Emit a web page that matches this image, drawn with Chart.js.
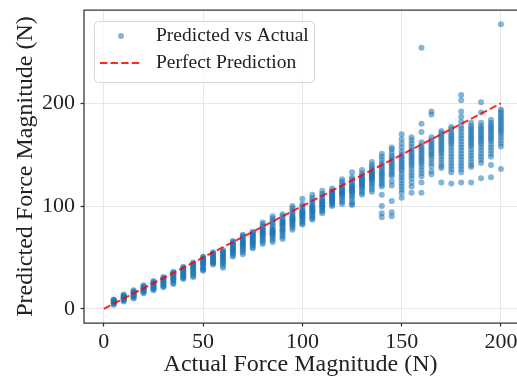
<!DOCTYPE html>
<html>
<head>
<meta charset="utf-8">
<script src="https://cdn.jsdelivr.net/npm/chart.js@4/dist/chart.umd.min.js"></script>
<style>
  html, body { margin: 0; padding: 0; background: #fff; overflow: hidden; }
  #wrap { position: relative; width: 517px; height: 379px; }
</style>
</head>
<body>
<div id="wrap"><canvas id="forceChart" width="517" height="379"></canvas></div>
<script>
// actual force (N) for each column of points
const actual = [5, 10, 15, 20, 25, 30, 35, 40, 45, 50,
  55, 60, 65, 70, 75, 80, 85, 90, 95, 100,
  105, 110, 115, 120, 125, 130, 135, 140, 145, 150,
  155, 160, 165, 170, 175, 180, 185, 190, 195, 200];

// predicted force (N), one list per actual value
const predicted = [
  [4, 5, 5.5, 6, 6.5, 7, 7.5, 8, 8.5, 9],
  [7, 8, 9, 9.5, 10, 10.5, 11, 12, 12.5, 13, 14],
  [10, 11, 12, 13, 13.5, 14, 15, 15.5, 16, 17, 18],
  [15, 16, 17, 18, 18.5, 19, 20, 20.5, 21, 22, 23],
  [18, 19, 20, 21, 22, 23, 24, 24.5, 25, 26, 27],
  [21, 22, 23, 24, 25, 26, 27, 28, 29, 30, 31],
  [24, 25, 27, 28, 29, 30, 31, 32, 33, 34, 35, 36],
  [29, 30, 31, 32, 33, 34, 35, 36, 37, 38, 39, 40, 41],
  [31, 32, 34, 35, 36, 38, 39, 40, 41, 42, 43, 44, 45],
  [37, 38, 39, 40, 42, 43, 44, 45, 46, 47, 48, 49, 50, 51],
  [43, 44, 45, 46, 47, 48, 49, 50, 51, 52, 53, 54, 55],
  [40, 42, 44, 45, 46, 48, 49, 50, 51, 52, 53, 54, 55, 56, 57],
  [51, 52, 54, 55, 56, 57, 58, 59, 60, 61, 62, 63, 64, 65, 66],
  [53, 55, 57, 58, 60, 61, 62, 63, 64, 65, 66, 67, 68, 70, 71, 72],
  [59, 60, 62, 63, 64, 65, 66, 67, 68, 69, 70, 71, 72, 73, 74, 75],
  [63, 65, 67, 68, 70, 71, 72, 73, 74, 75, 76, 77, 78, 80, 82, 84],
  [65, 67, 69, 71, 72, 73, 74, 75, 76, 77, 78, 80, 82, 84, 86, 88, 90],
  [68, 70, 72, 74, 76, 77, 78, 80, 81, 82, 83, 84, 85, 86, 88, 90, 92],
  [77, 79, 81, 82, 84, 85, 86, 87, 88, 89, 90, 92, 94, 96, 98, 100],
  [82, 83, 85, 86, 88, 89, 90, 91, 92, 93, 94, 95, 96, 98, 100, 102, 107],
  [87, 88, 90, 91, 93, 94, 95, 96, 97, 98, 99, 100, 102, 104, 106, 108, 111],
  [93, 95, 96, 98, 99, 100, 101, 102, 103, 104, 105, 106, 108, 110, 112, 115],
  [100, 101, 103, 104, 105, 106, 107, 108, 109, 110, 111, 112, 113, 114, 115, 117],
  [102, 104, 106, 108, 110, 111, 112, 113, 114, 115, 116, 117, 118, 120, 122, 124, 126],
  [101, 102, 104, 107, 109, 111, 113, 114, 115, 116, 117, 118, 119, 120, 122, 124, 126, 128, 133],
  [111, 113, 115, 117, 119, 120, 121, 122, 123, 124, 125, 126, 127, 128, 130, 132, 135],
  [114, 116, 119, 121, 123, 125, 126, 127, 128, 129, 130, 131, 132, 133, 134, 136, 138, 140, 143],
  [89, 93, 100, 111, 119, 121, 123, 125, 127, 129, 131, 132, 134, 136, 138, 140, 142, 145, 148, 151],
  [90, 94, 105, 120, 124, 129, 131, 133, 135, 137, 139, 141, 143, 145, 147, 149, 152, 155, 157],
  [108, 113, 116, 119, 122, 125, 128, 131, 134, 136, 138, 140, 142, 144, 146, 148, 150, 153, 157, 161, 165, 170],
  [113, 119, 123, 127, 130, 133, 136, 139, 141, 143, 145, 147, 149, 151, 153, 155, 158, 161, 164, 167],
  [113, 123, 129, 132, 135, 138, 141, 143, 145, 147, 149, 151, 153, 155, 157, 159, 162, 172, 180, 254],
  [131, 134, 139, 142, 145, 148, 150, 152, 154, 156, 158, 160, 162, 164, 167, 189, 192],
  [123, 137, 139, 142, 145, 148, 151, 153, 155, 157, 159, 161, 163, 165, 167, 169, 171, 173],
  [122, 133, 136, 139, 142, 145, 148, 151, 154, 157, 160, 162, 164, 166, 168, 170, 172, 175, 177],
  [123, 133, 136, 139, 142, 145, 148, 151, 154, 157, 160, 163, 166, 169, 172, 175, 178, 182, 187, 192, 203, 208],
  [123, 138, 140, 143, 146, 149, 152, 155, 158, 160, 162, 164, 166, 168, 170, 172, 174, 176, 178, 181],
  [127, 142, 145, 148, 151, 154, 157, 160, 162, 164, 166, 168, 170, 172, 174, 176, 178, 181, 191, 201],
  [128, 140, 148, 151, 154, 157, 160, 163, 165, 167, 169, 171, 173, 175, 177, 179, 181, 184],
  [136, 158, 161, 164, 167, 170, 172, 174, 176, 178, 180, 182, 184, 186, 188, 190, 192, 194, 277]
];

const perfectLine = [0, 200];
const xTicks = [0, 50, 100, 150, 200];
const yTicks = [0, 100, 200];

const points = [];
actual.forEach((a, i) => {
  predicted[i].forEach((p) => points.push({ x: a, y: p }));
});

const serif = '"Liberation Serif", "Times New Roman", serif';

// left/top/bottom spines + legend inside the axes, like matplotlib.
// the right spine sits just past the edge of the picture, so it is not drawn
const framePlugin = {
  id: 'frame',
  afterDraw(chart) {
    const { ctx, chartArea: area, width } = chart;
    ctx.save();
    ctx.strokeStyle = '#333';
    ctx.lineWidth = 1.25;
    ctx.beginPath();
    ctx.moveTo(width, area.top);
    ctx.lineTo(area.left, area.top);
    ctx.lineTo(area.left, area.bottom);
    ctx.lineTo(width, area.bottom);
    ctx.stroke();

    const l = area.left + 10;
    const t = area.top + 11;
    ctx.beginPath();
    ctx.roundRect(l + 0.5, t + 0.5, 220, 61, 4);
    ctx.fillStyle = 'rgba(255,255,255,0.8)';
    ctx.fill();
    ctx.strokeStyle = '#d6d6d6';
    ctx.lineWidth = 1;
    ctx.stroke();

    const [scatterSet, lineSet] = chart.data.datasets;
    ctx.beginPath();
    ctx.arc(l + 27, t + 15, 3, 0, Math.PI * 2);
    ctx.fillStyle = scatterSet.backgroundColor;
    ctx.fill();

    ctx.beginPath();
    ctx.setLineDash([7.4, 3.2]);
    ctx.strokeStyle = lineSet.borderColor;
    ctx.lineWidth = 2;
    ctx.moveTo(l + 6, t + 42);
    ctx.lineTo(l + 46, t + 42);
    ctx.stroke();
    ctx.setLineDash([]);

    ctx.fillStyle = '#222';
    ctx.font = '19.5px ' + serif;
    ctx.textBaseline = 'middle';
    ctx.fillText(scatterSet.label, l + 62, t + 15);
    ctx.fillText(lineSet.label, l + 62, t + 42);
    ctx.restore();
  }
};

const setTicks = (values) => (axis) => {
  axis.ticks = values.map((v) => ({ value: v }));
};

new Chart(document.getElementById('forceChart'), {
  type: 'scatter',
  data: {
    datasets: [
      {
        label: 'Predicted vs Actual',
        data: points,
        backgroundColor: 'rgba(31,119,180,0.55)',
        borderWidth: 0,
        pointRadius: 3,
        order: 1
      },
      {
        type: 'line',
        label: 'Perfect Prediction',
        data: perfectLine.map((v) => ({ x: v, y: v })),
        borderColor: 'rgba(255,0,0,0.85)',
        borderWidth: 2,
        borderDash: [7.4, 3.2],
        pointRadius: 0,
        fill: false,
        order: 0
      }
    ]
  },
  options: {
    responsive: false,
    animation: false,
    devicePixelRatio: 1,
    layout: { autoPadding: false, padding: { top: 10, right: 0, left: 0, bottom: 0 } },
    plugins: {
      legend: { display: false },
      tooltip: { enabled: false }
    },
    scales: {
      x: {
        type: 'linear',
        min: -10,
        max: 208.1, // visible part only; the axes end just past the picture edge
        afterBuildTicks: setTicks(xTicks),
        afterFit(scale) {
          scale.height = 56;
          scale.paddingLeft = 0;
          scale.paddingRight = 0;
        },
        grid: { color: '#e8e8e8', tickColor: '#333', tickLength: 3.5, tickWidth: 1.25 },
        border: { display: false },
        ticks: {
          autoSkip: false,
          maxRotation: 0,
          padding: 3,
          color: '#222',
          font: { family: serif, size: 22 }
        },
        title: {
          display: true,
          text: 'Actual Force Magnitude (N)',
          color: '#222',
          font: { family: serif, size: 24 },
          padding: { top: 0, bottom: 0 }
        }
      },
      y: {
        type: 'linear',
        min: -13.85,
        max: 290.85,
        afterBuildTicks: setTicks(yTicks),
        afterFit(scale) {
          scale.width = 84;
          scale.paddingTop = 0;
          scale.paddingBottom = 0;
        },
        grid: { color: '#e8e8e8', tickColor: '#333', tickLength: 3.5, tickWidth: 1.25 },
        border: { display: false },
        ticks: {
          autoSkip: false,
          padding: 5.5,
          color: '#222',
          font: { family: serif, size: 22 }
        },
        title: {
          display: true,
          text: 'Predicted Force Magnitude (N)',
          color: '#222',
          font: { family: serif, size: 24 },
          padding: { top: 11, bottom: 0 }
        }
      }
    }
  },
  plugins: [framePlugin]
});
</script>
</body>
</html>
